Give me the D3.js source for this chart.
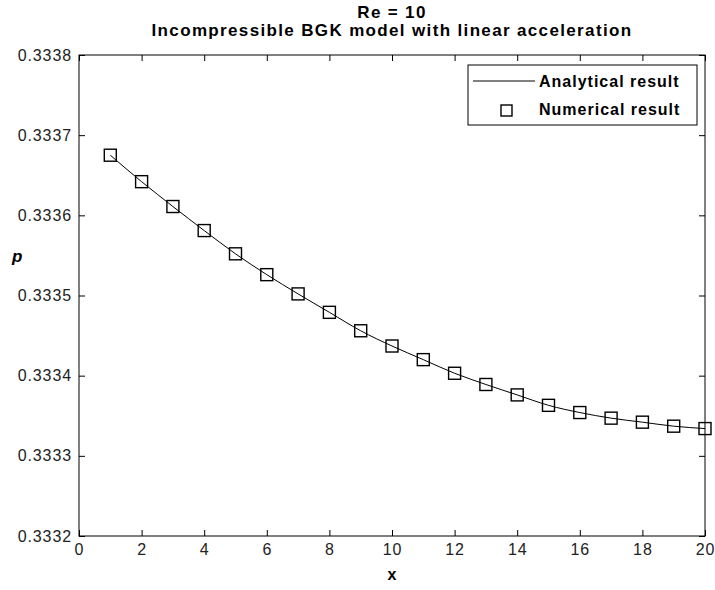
<!DOCTYPE html>
<html>
<head>
<meta charset="utf-8">
<script src="https://cdn.jsdelivr.net/npm/d3@7"></script>
<style>
body { margin: 0; background: #fff; }
svg text { font-family: "Liberation Sans", Arial, sans-serif; }
.tick text { font-size: 16px; letter-spacing: 0.9px; fill: #222; }
.title { font-size: 17px; font-weight: bold; letter-spacing: 1.35px; }
.leg { font-size: 16px; font-weight: bold; letter-spacing: 1px; }
</style>
</head>
<body>
<script>
// data
const xValues = [1, 2, 3, 4, 5, 6, 7, 8, 9, 10, 11, 12, 13, 14, 15, 16, 17, 18, 19, 20];
const analytical = [0.333675, 0.333642, 0.333611, 0.333581, 0.333552, 0.333526, 0.333502, 0.333479, 0.333456, 0.333437,
    0.333420, 0.333403, 0.333389, 0.333376, 0.333363, 0.333354, 0.333347, 0.333342, 0.333337, 0.333334];
const numerical = [0.333675, 0.333642, 0.333611, 0.333581, 0.333552, 0.333526, 0.333502, 0.333479, 0.333456, 0.333437,
    0.333420, 0.333403, 0.333389, 0.333376, 0.333363, 0.333354, 0.333347, 0.333342, 0.333337, 0.333334];
const xTicks = [0, 2, 4, 6, 8, 10, 12, 14, 16, 18, 20];
const yTicks = [0.3332, 0.3333, 0.3334, 0.3335, 0.3336, 0.3337, 0.3338];
const titleLines = ["Re = 10", "Incompressible BGK model with linear acceleration"];
const legendLabels = ["Analytical result", "Numerical result"];

const Width = 715, Height = 590;
const pLeft = 79, pRight = 705, pTop = 55, pBottom = 536;

const svg = d3.select("body").append("svg")
    .attr("width", Width).attr("height", Height);

const xScale = d3.scaleLinear().domain([0, 20]).range([pLeft, pRight]);
const yScale = d3.scaleLinear().domain([0.3332, 0.3338]).range([pBottom, pTop]);

// 坐标轴 (ticks point inward like matlab)
svg.append("g").attr("transform", "translate(0," + pBottom + ")")
    .call(d3.axisBottom(xScale).tickValues(xTicks).tickSizeInner(-6).tickSizeOuter(0).tickPadding(8));
svg.append("g").attr("transform", "translate(" + pLeft + ",0)")
    .call(d3.axisLeft(yScale).tickValues(yTicks).tickFormat(d3.format(".4f")).tickSizeInner(-6).tickSizeOuter(0).tickPadding(7));
svg.append("g").attr("transform", "translate(0," + pTop + ")")
    .call(d3.axisTop(xScale).tickValues(xTicks).tickFormat("").tickSizeInner(-6).tickSizeOuter(0));
svg.append("g").attr("transform", "translate(" + pRight + ",0)")
    .call(d3.axisRight(yScale).tickValues(yTicks).tickFormat("").tickSizeInner(-6).tickSizeOuter(0));
svg.selectAll(".domain").remove();
svg.selectAll(".tick line").attr("stroke", "#000");

svg.append("rect")
    .attr("x", pLeft).attr("y", pTop)
    .attr("width", pRight - pLeft).attr("height", pBottom - pTop)
    .attr("fill", "none").attr("stroke", "#000").attr("stroke-width", 1);

// analytical curve
const line = d3.line()
    .x((d, i) => xScale(xValues[i]))
    .y(d => yScale(d))
    .curve(d3.curveMonotoneX);
svg.append("path").datum(analytical)
    .attr("d", line)
    .attr("fill", "none").attr("stroke", "#000").attr("stroke-width", 1);

// numerical squares
const sq = 12;
svg.selectAll(".num").data(numerical).enter().append("rect")
    .attr("class", "num")
    .attr("x", (d, i) => xScale(xValues[i]) - sq / 2)
    .attr("y", d => yScale(d) - sq / 2)
    .attr("width", sq).attr("height", sq)
    .attr("fill", "none").attr("stroke", "#000").attr("stroke-width", 1.4);

// title
svg.selectAll(".title").data(titleLines).enter().append("text")
    .attr("class", "title")
    .attr("x", (pLeft + pRight) / 2)
    .attr("y", (d, i) => 18 + i * 18)
    .attr("text-anchor", "middle")
    .text(d => d);

// axis labels
svg.append("text").attr("x", (pLeft + pRight) / 2).attr("y", 580)
    .attr("text-anchor", "middle").attr("font-size", 16).attr("font-weight", "bold")
    .text("x");
svg.append("text").attr("x", 12).attr("y", 262)
    .attr("font-size", 17).attr("font-weight", "bold").attr("font-style", "italic")
    .text("p");

// legend
const leg = svg.append("g");
leg.append("rect").attr("x", 468).attr("y", 65).attr("width", 229).attr("height", 60)
    .attr("fill", "#fff").attr("stroke", "#000").attr("stroke-width", 1);
leg.append("line").attr("x1", 473).attr("x2", 535).attr("y1", 81).attr("y2", 81)
    .attr("stroke", "#000").attr("stroke-width", 1);
leg.append("rect").attr("x", 501).attr("y", 105).attr("width", 11).attr("height", 11)
    .attr("fill", "none").attr("stroke", "#000").attr("stroke-width", 1.4);
leg.selectAll(".leg").data(legendLabels).enter().append("text")
    .attr("class", "leg")
    .attr("x", 539)
    .attr("y", (d, i) => 87 + i * 28)
    .text(d => d);
</script>
</body>
</html>
